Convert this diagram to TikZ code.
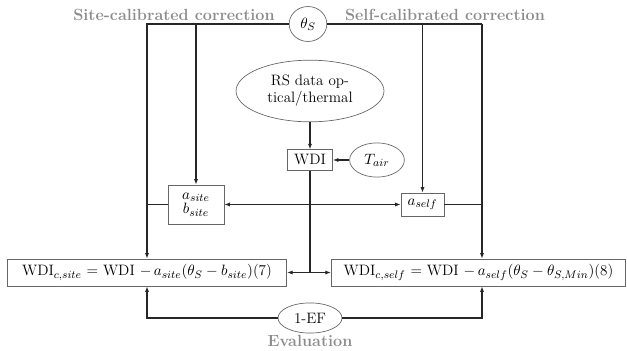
\documentclass[tikz,border=0pt]{standalone}
\usetikzlibrary{shapes.geometric,arrows.meta}
\begin{document}
\begin{tikzpicture}[x=0.73pt,y=-0.73pt,
  font=\fontsize{11}{12.5}\selectfont,
  conn/.style={line width=0.75pt,black!85},
  arr/.style={conn,-{Latex[length=4pt,width=3pt]}},
  boxn/.style={draw=black!60,line width=0.5pt,rectangle,inner sep=1pt},
  elln/.style={draw=black!60,line width=0.5pt,ellipse,inner sep=0pt,align=center},
  lbl/.style={text=black!45,font=\fontsize{11.8}{13}\selectfont\bfseries}]
\useasboundingbox (0,0) rectangle (627,351);
\node[elln,minimum width=27.5pt,minimum height=25.5pt] (theta) at (308,24) {$\theta_S$};
\node[elln,minimum width=108pt,minimum height=45pt] (rs) at (310,91) {RS data op-\\tical/thermal};
\node[boxn,minimum width=33pt,minimum height=15pt] (wdi) at (310,160) {WDI};
\node[elln,minimum width=40pt,minimum height=25pt] (tair) at (377,160) {$T_{air}$};
\node[boxn,minimum width=41pt,minimum height=28.5pt,align=center] (asite) at (196,204.5) {$a_{site}$\\[-2pt]$b_{site}$};
\node[boxn,minimum width=31.4pt,minimum height=16.8pt] (aself) at (422.5,204.5) {$a_{self}$};
\node[boxn,minimum width=204pt,minimum height=19.7pt] (siteq) at (147,272.5) {WDI$_{c,site}$ = WDI $-\,a_{site}(\theta_S-b_{site})$(7)};
\node[boxn,minimum width=215pt,minimum height=19.7pt] (selfeq) at (478.5,272.5) {WDI$_{c,self}$ = WDI $-\,a_{self}(\theta_S-\theta_{S,Min})$(8)};
\node[elln,minimum width=46.7pt,minimum height=22pt] (ef) at (310,318) {1-EF};
\node[lbl] (lsite) at (174,15) {Site-calibrated correction};
\node[lbl] (lself) at (445,15) {Self-calibrated correction};
\node[lbl] (leval) at (310,341) {Evaluation};
\coordinate (r2) at (482,24);
\coordinate (j) at (310,272.5);
% top connectors
\draw[arr] (theta.west) -| (siteq.north);
\draw[arr] (theta.west -| asite.north) -- (asite.north);
\draw[conn] (theta.east) -- (r2);
\draw[arr] (r2) -- (r2 |- selfeq.north);
\draw[arr] (theta.east -| aself.north) -- (aself.north);
\draw[conn] (asite.west) -- (asite.west -| siteq.north);
\draw[conn] (aself.east) -- (aself.east -| r2);
% WDI chain
\draw[arr] (rs.south) -- (wdi.north);
\draw[arr] (tair.west) -- (wdi.east);
\draw[conn] (wdi.south) -- (j);
\draw[arr] (j) -- (siteq.east);
\draw[arr] (j) -- (selfeq.west);
\draw[arr] (wdi.south |- asite.east) -- (asite.east);
\draw[arr] (wdi.south |- aself.west) -- (aself.west);
% evaluation
\draw[arr] (ef.west) -| (siteq.south);
\draw[arr] (ef.east) -| (r2 |- selfeq.south);
\end{tikzpicture}
\end{document}
